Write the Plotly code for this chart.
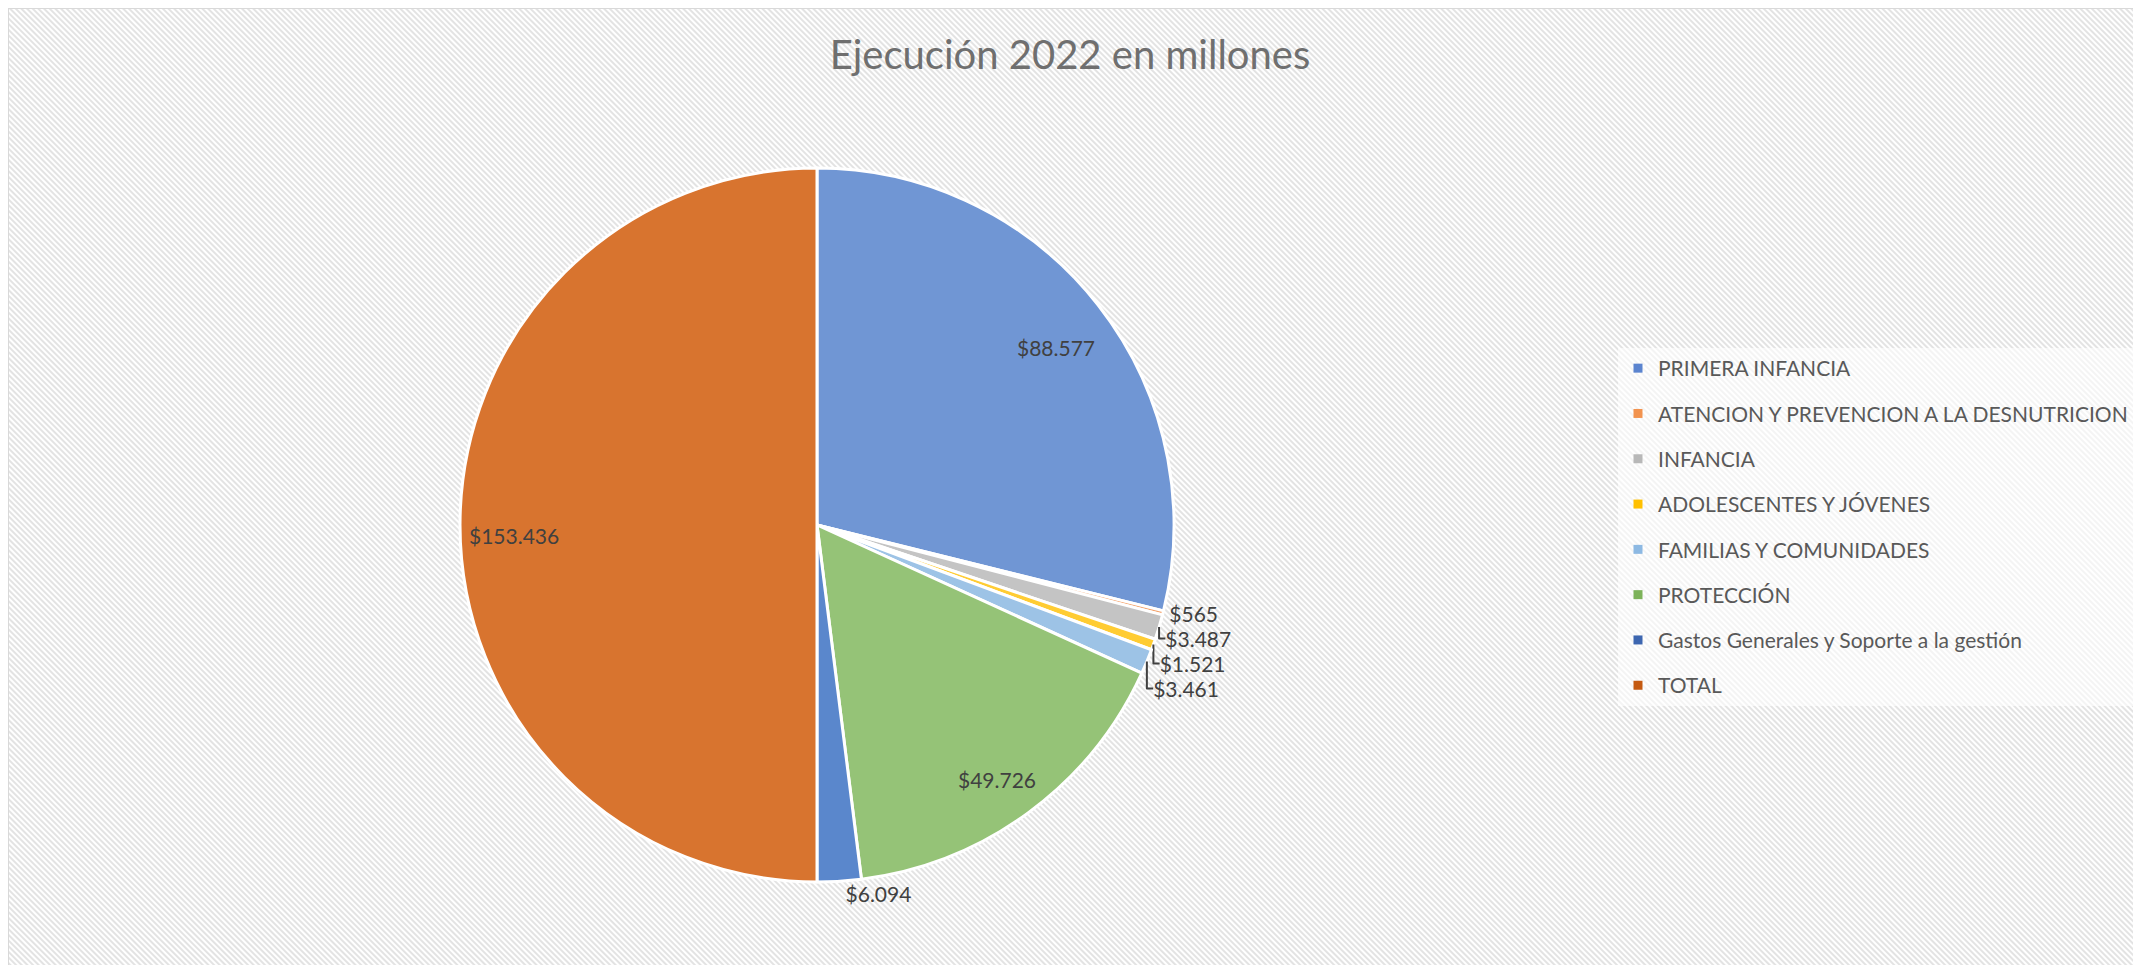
import base64
import math
import plotly.graph_objects as go

# ---- data ----
categories = [
    "PRIMERA INFANCIA",
    "ATENCION Y PREVENCION A LA DESNUTRICION",
    "INFANCIA",
    "ADOLESCENTES Y JÓVENES",
    "FAMILIAS Y COMUNIDADES",
    "PROTECCIÓN",
    "Gastos Generales y Soporte a la gestión",
    "TOTAL",
]
values = [88577, 565, 3487, 1521, 3461, 49726, 6094, 153436]
colors = ["#7096d4", "#f4a46e", "#c4c4c4", "#ffcc33", "#9dc3e6", "#95c377", "#5a87cc", "#d8742f"]
legend_colors = ["#5b84cf", "#f2934f", "#b8b8b8", "#ffc000", "#8db9e3", "#7db35a", "#3d66b0", "#c55a11"]
label_inside = [True, False, False, False, False, True, False, True]
title_text = "Ejecución 2022 en millones"

W, H = 2141, 965
OFF = 8  # page body offset
CX, CY, R = 817 - OFF, 525 - OFF, 357

def fmt(v):
    return "$" + f"{v:,}".replace(",", ".")

fig = go.Figure()
fig.add_trace(go.Pie(
    labels=categories,
    values=values,
    sort=False,
    direction="clockwise",
    rotation=0,
    marker=dict(colors=colors, line=dict(color="white", width=3)),
    texttemplate="$%{value:,}",
    textposition=["none" if ins else "outside" for ins in label_inside],
    textfont=dict(family="Lato", size=21, color="#404040"),
    domain=dict(x=[(CX - R) / W, (CX + R) / W], y=[1 - (CY + R) / H, 1 - (CY - R) / H]),
    showlegend=False,
    hoverinfo="label+value",
))

# inside labels placed along each slice's mid-angle
total = sum(values)
annotations = []
cum = 0
for v, ins in zip(values, label_inside):
    mid = (cum + v / 2) / total * 2 * math.pi
    cum += v
    if not ins:
        continue
    px = CX + 0.85 * R * math.sin(mid)
    py = CY - 0.85 * R * math.cos(mid) + 10
    annotations.append(dict(x=px / W, y=1 - py / H, xref="paper", yref="paper", text=fmt(v),
                            xanchor="center", yanchor="middle",
                            showarrow=False, font=dict(family="Lato", size=21, color="#404040")))

# legend entries
for name, c in zip(categories, legend_colors):
    fig.add_trace(go.Scatter(
        x=[None], y=[None], mode="markers", name=name, legendgroup=name,
        marker=dict(symbol="square", size=9, color=c),
    ))

svg = (
    f'<svg xmlns="http://www.w3.org/2000/svg" width="{W}" height="{H}">'
    '<defs><pattern id="p" width="4" height="4" patternUnits="userSpaceOnUse" patternTransform="rotate(-45)">'
    '<rect width="4" height="4" fill="#ffffff"/><rect width="2" height="4" fill="#e3e3e3"/></pattern></defs>'
    '<rect width="100%" height="100%" fill="url(#p)"/></svg>'
)
src = "data:image/svg+xml;base64," + base64.b64encode(svg.encode()).decode()

fig.update_layout(
    width=W, height=H,
    margin=dict(l=0, r=0, t=0, b=0),
    paper_bgcolor="white",
    plot_bgcolor="rgba(0,0,0,0)",
    separators=",.",
    xaxis=dict(visible=False),
    yaxis=dict(visible=False),
    title=dict(text=title_text, x=(1070 - OFF) / W, xanchor="center", y=1 - (55 - OFF) / H, yanchor="middle",
               font=dict(family="Lato", size=40, color="#6f6f6f")),
    legend=dict(
        x=(1618 - OFF) / W, xanchor="left", y=1 - (348 - OFF) / H, yanchor="top",
        font=dict(family="Lato", size=21, color="#595959"),
        bgcolor="rgba(255,255,255,0.6)",
        tracegroupgap=15,
    ),
    annotations=annotations,
    images=[dict(source=src, xref="paper", yref="paper", x=0, y=1,
                 sizex=1, sizey=1, sizing="stretch", layer="below", xanchor="left", yanchor="top")],
    shapes=[dict(type="rect", xref="paper", yref="paper", x0=0, x1=1.01, y0=-0.01, y1=1,
                 line=dict(color="#d9d9d9", width=2), fillcolor="rgba(0,0,0,0)", layer="above")],
)

fig.write_html("out.html")
